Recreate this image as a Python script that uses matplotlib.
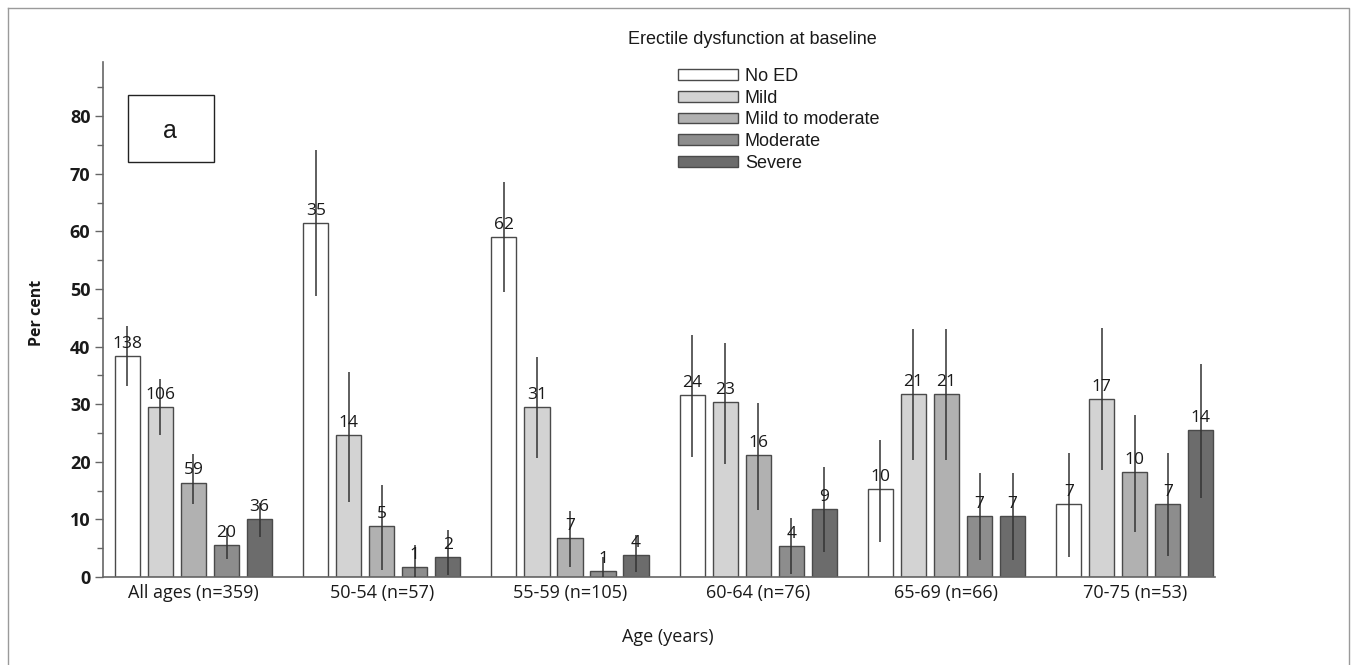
import numpy as np
import matplotlib
matplotlib.use('Agg')
import matplotlib.pyplot as plt
from matplotlib.patches import Rectangle
from matplotlib.lines import Line2D

groups = ["All ages (n=359)", "50-54 (n=57)", "55-59 (n=105)",
          "60-64 (n=76)", "65-69 (n=66)", "70-75 (n=53)"]
categories = ["No ED", "Mild", "Mild to moderate", "Moderate", "Severe"]
colors = ["#ffffff", "#d3d3d3", "#b1b1b1", "#8d8d8d", "#6c6c6c"]

# per cent per group, one list per ED category
no_ed    = [38.4, 61.4, 59.0, 31.6, 15.2, 12.7]
mild     = [29.5, 24.6, 29.5, 30.3, 31.8, 30.9]
mild_mod = [16.4,  8.8,  6.7, 21.1, 31.8, 18.2]
moderate = [ 5.6,  1.8,  1.0,  5.3, 10.6, 12.7]
severe   = [10.0,  3.5,  3.8, 11.8, 10.6, 25.5]

# counts shown above bars
n_no_ed    = [138, 35, 62, 24, 10, 7]
n_mild     = [106, 14, 31, 23, 21, 17]
n_mild_mod = [59, 5, 7, 16, 21, 10]
n_moderate = [20, 1, 1, 4, 7, 7]
n_severe   = [36, 2, 4, 9, 7, 14]

# confidence interval limits (lower, upper)
lo_no_ed    = [33.2, 48.7, 49.5, 20.9, 6.1, 3.5]
hi_no_ed    = [43.6, 74.1, 68.6, 42.0, 23.8, 21.5]
lo_mild     = [24.7, 13.1, 20.6, 19.7, 20.3, 18.5]
hi_mild     = [34.4, 35.6, 38.2, 40.6, 43.0, 43.2]
lo_mild_mod = [12.7, 1.2, 1.8, 11.6, 20.3, 7.8]
hi_mild_mod = [21.4, 16.0, 11.5, 30.2, 43.0, 28.2]
lo_moderate = [3.1, 0.0, 0.0, 0.5, 2.9, 3.6]
hi_moderate = [8.5, 5.5, 3.5, 10.2, 18.0, 21.5]
lo_severe   = [6.9, 0.3, 0.8, 4.4, 2.9, 13.7]
hi_severe   = [12.9, 8.2, 7.3, 19.1, 18.0, 36.9]

values = [no_ed, mild, mild_mod, moderate, severe]
counts = [n_no_ed, n_mild, n_mild_mod, n_moderate, n_severe]
lows = [lo_no_ed, lo_mild, lo_mild_mod, lo_moderate, lo_severe]
highs = [hi_no_ed, hi_mild, hi_mild_mod, hi_moderate, hi_severe]

W, H = 1357, 665
fig = plt.figure(figsize=(W / 100, H / 100), dpi=100)
ax = fig.add_axes([103 / W, (H - 577) / H, (1215 - 103) / W, (577 - 62) / H])

edge = "#4a4a4a"
txt = "#1a1a1a"
group_step = 5.7
centers = np.arange(len(groups)) * group_step
width = 0.76

for j, cat in enumerate(categories):
    x = centers + (j - 2)
    ax.bar(x, values[j], width=width, color=colors[j], edgecolor=edge,
           linewidth=1.0, label=cat, zorder=2)
    ax.vlines(x, lows[j], highs[j], color="#333333", linewidth=1.1, zorder=3)
    for xi, v, c in zip(x, values[j], counts[j]):
        ax.text(xi, v + 0.7, str(c), ha="center", va="bottom", fontsize=12.5,
                family="Open Sans", color=txt, zorder=4)

ax.set_xlim(centers[0] - 2.74, centers[-1] + 2.43)
ax.set_ylim(0, 89.4)
ax.set_xticks(centers)
ax.set_xticklabels(groups, family="Open Sans", fontsize=13, color=txt)
ax.tick_params(axis="x", length=0, pad=5)
ax.set_yticks(np.arange(0, 81, 10))
ax.set_yticks(np.arange(5, 86, 10), minor=True)
ax.tick_params(axis="y", which="major", length=6, width=1, color="#666666",
               labelsize=13, pad=3, labelcolor=txt)
ax.tick_params(axis="y", which="minor", length=4, width=1, color="#666666")
for lab in ax.get_yticklabels():
    lab.set_fontweight("bold")
    lab.set_family("Open Sans")
for s in ["top", "right"]:
    ax.spines[s].set_visible(False)
for s in ["left", "bottom"]:
    ax.spines[s].set_color("#666666")
    ax.spines[s].set_linewidth(1.2)

fig.text(37 / W, 1 - 313 / H, "Per cent", rotation=90, ha="center",
         va="center", fontsize=11.5, fontweight="bold", family="Open Sans",
         color=txt)
fig.text(668 / W, 1 - 637 / H, "Age (years)", ha="center", va="center",
         fontsize=13, family="Open Sans", color=txt)

# panel label box
ax.add_patch(Rectangle((128 / W, 1 - 162 / H), 86 / W, 67 / H,
                       transform=fig.transFigure, fill=False,
                       edgecolor="#222222", linewidth=1.0, zorder=5))
fig.text(170 / W, 1 - 131 / H, "a", ha="center", va="center", fontsize=18,
         family="Liberation Sans", color=txt)

# legend
fig.text(752 / W, 1 - 40 / H, "Erectile dysfunction at baseline",
         ha="center", va="center", fontsize=13, family="Liberation Sans",
         color=txt)
leg = ax.legend(loc="upper left", bbox_to_anchor=(669 / W, 1 - 59 / H),
                bbox_transform=fig.transFigure, frameon=False,
                handlelength=3.3, handleheight=0.55, handletextpad=0.4,
                labelspacing=0.26, borderpad=0,
                prop={"family": "Liberation Sans", "size": 13})
for t in leg.get_texts():
    t.set_color(txt)

# outer frame
fig.add_artist(Line2D([8 / W, 1349 / W, 1349 / W], [1 - 8 / H, 1 - 8 / H, 0],
                      transform=fig.transFigure, color="#9a9a9a", linewidth=1))
fig.add_artist(Line2D([8 / W, 8 / W], [1 - 8 / H, 0],
                      transform=fig.transFigure, color="#9a9a9a", linewidth=1))

fig.savefig("out.png", dpi=100)
